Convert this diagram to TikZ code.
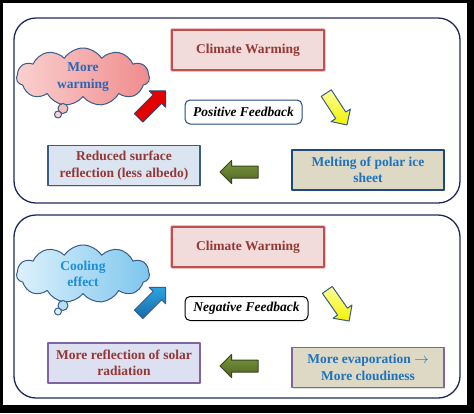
\documentclass[tikz,border=0pt]{standalone}
\usepackage{fontspec}
\setmainfont{Liberation Serif}
\usetikzlibrary{shapes.symbols,shapes.arrows,shadows}

\definecolor{panelblue}{HTML}{1F2A5C}
\definecolor{cwfill}{HTML}{F2DCDB}
\definecolor{cwdraw}{HTML}{C0504D}
\definecolor{darkred}{HTML}{953735}
\definecolor{navyline}{HTML}{1F497D}
\definecolor{steelline}{HTML}{385D8A}
\definecolor{iceblue}{HTML}{DBE5F1}
\definecolor{tanfill}{HTML}{DDD9C4}
\definecolor{lavfill}{HTML}{DDE0F0}
\definecolor{boxpurple}{HTML}{8064A2}
\definecolor{warmtext}{HTML}{2E67B1}
\definecolor{cooltext}{HTML}{1B8ED6}
\definecolor{melttext}{HTML}{1F72BD}
\definecolor{pinkleft}{HTML}{FAD0D0}
\definecolor{pinkright}{HTML}{F08C8C}
\definecolor{skyleft}{HTML}{DDF1FB}
\definecolor{skyright}{HTML}{7EC6EE}
\definecolor{grntop}{HTML}{7A9A3A}
\definecolor{grnbot}{HTML}{4F6228}
\definecolor{bluetop}{HTML}{2AA5E0}
\definecolor{bluebot}{HTML}{1A6AA8}

\newcommand{\labelfont}{\fontsize{13.5}{16.5}\selectfont\bfseries}

\begin{document}
\begin{tikzpicture}[x=1pt, y=-1pt, line join=round,
    panel/.style={draw=panelblue, line width=1.3pt, rounded corners=22pt},
    box/.style={draw, line width=1.1pt, minimum width=152pt, minimum height=40pt,
        inner sep=2pt, align=center, font=\labelfont,
        drop shadow={shadow xshift=1.2pt, shadow yshift=-1.2pt, opacity=0.25}},
    warmbox/.style={box, fill=cwfill, draw=cwdraw, text=darkred,
        preaction={draw=cwdraw!35, line width=3.5pt}},
    feedback/.style={draw, line width=1pt, rounded corners=5pt, fill=white,
        minimum height=24pt, inner xsep=6pt, font=\labelfont\itshape},
    bubble/.style={cloud, cloud puffs=11, cloud puff arc=115, aspect=2.3,
        minimum width=133pt, minimum height=58pt, inner sep=0pt, align=center,
        font=\labelfont, draw=steelline, line width=1pt},
    puff/.style={draw=steelline, line width=1pt},
    blockarrow/.style={single arrow, minimum height=38pt, inner xsep=0pt,
        inner ysep=5.5pt, single arrow head extend=5.5pt, line width=1pt}
]
\useasboundingbox (0,0) rectangle (474,413);

% Frame
\fill[black] (0,0) rectangle (474,413);
\fill[white] (3,3) rectangle (467,405);

% START POSITIVE FEEDBACK ----------------------------------
\draw[panel] (14,18) rectangle (460,203);

\node[warmbox] (warm_top) at (248,50) {Climate Warming};
\node[feedback, draw=navyline, minimum width=117pt] (pos_fb) at (243.5,112) {Positive Feedback};
\node[box, fill=iceblue, draw=steelline, text=darkred] (albedo) at (124,165.5)
    {Reduced surface\\reflection (less albedo)};
\node[box, fill=tanfill, draw=navyline, text=melttext] (melting) at (368,170)
    {Melting of polar ice\\sheet};

\node[bubble, left color=pinkleft, right color=pinkright, text=warmtext] (more_warm)
    at (83,77) {More\\warming};
\draw[puff, fill=pinkleft!70!pinkright] (63,108.5) circle (5pt);
\draw[puff, fill=pinkleft] (58,114.5) circle (3.5pt);

\node[blockarrow, rotate=45, fill=red!90!black, draw=navyline] (arr_red) at (150,106.5) {};
\node[blockarrow, rotate=-57, top color=yellow!40, bottom color=yellow!95!black,
    draw=steelline] (arr_yel_top) at (335,106.5) {};
\node[blockarrow, rotate=180, top color=grntop, bottom color=grnbot,
    draw=grnbot!70!black] (arr_grn_top) at (242,172) {};

% START NEGATIVE FEEDBACK ----------------------------------
\draw[panel] (14,215) rectangle (460,398);

\node[warmbox] (warm_bot) at (248,247) {Climate Warming};
\node[feedback, draw=black, minimum width=123pt] (neg_fb) at (246.5,308.5) {Negative Feedback};
\node[box, fill=lavfill, draw=boxpurple, text=darkred] (reflect) at (124,363)
    {More reflection of solar\\radiation};
\node[box, fill=tanfill, draw=boxpurple, text=melttext] (evapor) at (368,367.5)
    {More evaporation $\rightarrow$\\More cloudiness};

\node[bubble, left color=skyleft, right color=skyright, text=cooltext] (cooling)
    at (83,274) {Cooling\\effect};
\draw[puff, fill=skyleft!60!skyright] (63,305.5) circle (5pt);
\draw[puff, fill=skyleft] (58,311.5) circle (3.5pt);

\node[blockarrow, rotate=45, top color=bluetop, bottom color=bluebot,
    draw=steelline] (arr_blue) at (150,303) {};
\node[blockarrow, rotate=-55, top color=yellow!40, bottom color=yellow!95!black,
    draw=steelline] (arr_yel_bot) at (336.5,303) {};
\node[blockarrow, rotate=180, top color=grntop, bottom color=grnbot,
    draw=grnbot!70!black] (arr_grn_bot) at (242,366) {};

\end{tikzpicture}
\end{document}
